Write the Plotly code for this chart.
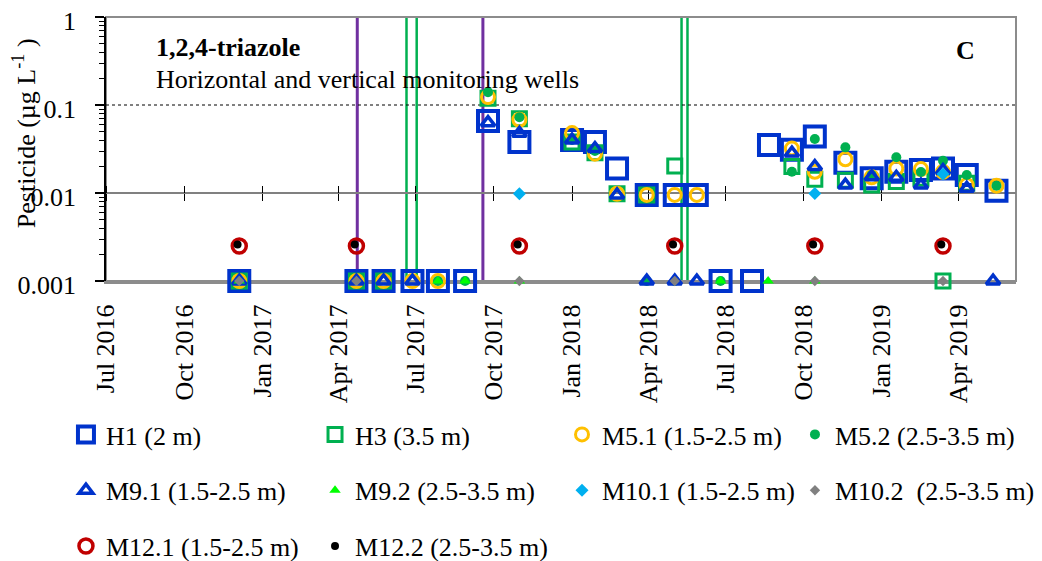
import plotly.graph_objects as go

FONT = "Liberation Serif, Times New Roman, serif"

# ---------------- axis data ----------------
quarter_ticks = ['2016-07-01', '2016-10-01', '2017-01-01', '2017-04-01', '2017-07-01', '2017-10-01',
                 '2018-01-01', '2018-04-01', '2018-07-01', '2018-10-01', '2019-01-01', '2019-04-01']
quarter_labels = ['Jul 2016', 'Oct 2016', 'Jan 2017', 'Apr 2017', 'Jul 2017', 'Oct 2017',
                  'Jan 2018', 'Apr 2018', 'Jul 2018', 'Oct 2018', 'Jan 2019', 'Apr 2019']
x_range = ['2016-07-01', '2019-06-08']
y_ticks = [0.001, 0.01, 0.1, 1]
y_tick_labels = ['0.001', '0.01', '0.1', '1']
limit_value = [0.1, 0.1]

purple_event_dates = ['2017-04-23', '2017-09-18']
green_event_dates = ['2017-06-20', '2017-07-02', '2018-05-10', '2018-05-17']

# ---------------- series data ----------------
h1_dates = ['2016-12-05', '2017-04-22', '2017-05-24', '2017-06-27', '2017-07-27', '2017-08-28',
            '2017-09-24', '2017-10-31', '2018-01-01', '2018-01-28', '2018-02-23', '2018-03-30',
            '2018-05-02', '2018-05-28', '2018-06-25', '2018-08-01', '2018-08-21', '2018-09-17',
            '2018-10-14', '2018-11-19', '2018-12-20', '2019-01-18', '2019-02-16', '2019-03-14',
            '2019-04-11', '2019-05-16']
h1_values = [0.001, 0.001, 0.001, 0.001, 0.001, 0.001,
             0.066, 0.038, 0.040, 0.038, 0.019, 0.0095,
             0.0095, 0.0095, 0.001, 0.001, 0.035, 0.031,
             0.044, 0.022, 0.0147, 0.0174, 0.0182, 0.019,
             0.016, 0.0106]

h3_dates = ['2016-12-05', '2017-04-22', '2017-05-24', '2017-09-24', '2017-10-31', '2018-01-01',
            '2018-01-28', '2018-02-23', '2018-03-30', '2018-05-02', '2018-09-17', '2018-10-14',
            '2018-11-19', '2018-12-20', '2019-01-18', '2019-02-16', '2019-03-14', '2019-04-11']
h3_values = [0.001, 0.001, 0.001, 0.119, 0.070, 0.038,
             0.0287, 0.0098, 0.0095, 0.0203, 0.020, 0.0143,
             0.014, 0.0123, 0.0135, 0.0147, 0.001, 0.0129]

m51_dates = ['2016-12-05', '2017-04-22', '2017-05-24', '2017-06-27', '2017-07-27', '2017-09-24',
             '2017-10-31', '2018-01-01', '2018-01-28', '2018-02-23', '2018-03-30', '2018-05-02',
             '2018-05-28', '2018-09-17', '2018-10-14', '2018-11-19', '2018-12-20', '2019-01-18',
             '2019-02-16', '2019-03-14', '2019-04-11', '2019-05-16']
m51_values = [0.001, 0.001, 0.001, 0.001, 0.001, 0.123,
              0.068, 0.048, 0.028, 0.0098, 0.0095, 0.0095,
              0.0095, 0.032, 0.0174, 0.0242, 0.0151, 0.019,
              0.0187, 0.0174, 0.0123, 0.0121]

m52_dates = ['2016-12-05', '2017-07-27', '2017-08-28', '2017-09-24', '2017-10-31', '2018-01-01',
             '2018-01-28', '2018-03-30', '2018-05-02', '2018-06-25', '2018-09-17', '2018-10-14',
             '2018-11-19', '2018-12-20', '2019-01-18', '2019-02-16', '2019-03-14', '2019-04-11',
             '2019-05-16']
m52_values = [0.001, 0.001, 0.001, 0.140, 0.0725, 0.040,
              0.030, 0.001, 0.001, 0.001, 0.0174, 0.041,
              0.033, 0.016, 0.0255, 0.0173, 0.0233, 0.016,
              0.0121]

m91_dates = ['2016-12-05', '2017-04-22', '2017-05-24', '2017-06-27', '2017-09-24', '2017-10-31',
             '2018-01-01', '2018-01-28', '2018-02-23', '2018-03-30', '2018-05-02', '2018-05-28',
             '2018-09-17', '2018-10-14', '2018-11-19', '2018-12-20', '2019-01-18', '2019-02-16',
             '2019-03-14', '2019-04-11', '2019-05-12']
m91_values = [0.001, 0.001, 0.001, 0.001, 0.063, 0.0477,
              0.040, 0.032, 0.0095, 0.001, 0.001, 0.001,
              0.0284, 0.020, 0.0123, 0.0153, 0.0151, 0.0123,
              0.018, 0.0113, 0.001]

m92_dates = ['2016-12-05', '2017-07-27', '2017-08-28', '2017-10-31', '2018-06-25', '2018-08-20',
             '2018-10-14']
m92_values = [0.001, 0.001, 0.001, 0.001, 0.001, 0.001, 0.001]

m101_dates = ['2017-10-31', '2018-10-14', '2019-03-14']
m101_values = [0.0098, 0.0099, 0.0164]

m102_dates = ['2016-12-05', '2017-04-22', '2017-10-31', '2018-05-02', '2018-10-14', '2019-03-14']
m102_values = [0.001, 0.001, 0.001, 0.001, 0.001, 0.001]

m121_dates = ['2016-12-05', '2017-04-22', '2017-10-31', '2018-05-02', '2018-10-14', '2019-03-14']
m121_values = [0.0025, 0.0025, 0.0025, 0.0025, 0.0025, 0.0025]

m122_dates = ['2016-12-03', '2017-04-20', '2017-10-29', '2018-04-30', '2018-10-12', '2019-03-12']
m122_values = [0.0026, 0.0026, 0.0026, 0.0026, 0.0026, 0.0026]

BLUE = '#0033CC'
GREEN = '#00B050'
ORANGE = '#FFC000'
LIME = '#00FF00'
CYAN = '#00B0F0'
GREY = '#808080'
DRED = '#C00000'

series = [
    ('H1 (2 m)', h1_dates, h1_values, dict(symbol='square-open', size=20, color=BLUE, line=dict(width=4, color=BLUE)), 'legend'),
    ('H3 (3.5 m)', h3_dates, h3_values, dict(symbol='square-open', size=14, color=GREEN, line=dict(width=3, color=GREEN)), 'legend2'),
    ('M5.1 (1.5-2.5 m)', m51_dates, m51_values, dict(symbol='circle-open', size=13, color=ORANGE, line=dict(width=3, color=ORANGE)), 'legend3'),
    ('M5.2 (2.5-3.5 m)', m52_dates, m52_values, dict(symbol='circle', size=10, color=GREEN, line=dict(width=0)), 'legend4'),
    ('M9.1 (1.5-2.5 m)', m91_dates, m91_values, dict(symbol='triangle-up-open', size=12, color=BLUE, line=dict(width=3.5, color=BLUE)), 'legend'),
    ('M9.2 (2.5-3.5 m)', m92_dates, m92_values, dict(symbol='triangle-up', size=10, color=LIME, line=dict(width=0)), 'legend2'),
    ('M10.1 (1.5-2.5 m)', m101_dates, m101_values, dict(symbol='diamond', size=10, color=CYAN, line=dict(width=0)), 'legend3'),
    ('M10.2  (2.5-3.5 m)', m102_dates, m102_values, dict(symbol='diamond', size=8, color=GREY, line=dict(width=0)), 'legend4'),
    ('M12.1 (1.5-2.5 m)', m121_dates, m121_values, dict(symbol='circle-open', size=14, color=DRED, line=dict(width=3.5, color=DRED)), 'legend'),
    ('M12.2 (2.5-3.5 m)', m122_dates, m122_values, dict(symbol='circle', size=8, color='black', line=dict(width=0)), 'legend2'),
]

fig = go.Figure()

# dotted 0.1 reference line
fig.add_trace(go.Scatter(x=x_range, y=limit_value, mode='lines', showlegend=False,
                         hoverinfo='skip', line=dict(color='black', width=1, dash='dot')))
# empty helper traces so the 0.01 crossing axes are drawn
fig.add_trace(go.Scatter(x=[], y=[], xaxis='x2', yaxis='y', showlegend=False, hoverinfo='skip'))
fig.add_trace(go.Scatter(x=[], y=[], xaxis='x3', yaxis='y', showlegend=False, hoverinfo='skip'))

for i, (name, xs, ys, mk, leg) in enumerate(series):
    fig.add_trace(go.Scatter(x=xs, y=ys, name=name, mode='markers', marker=mk,
                             cliponaxis=False, legend=leg, legendgroup='g%d' % i))

# event lines
for d in purple_event_dates:
    fig.add_shape(type='line', xref='x', yref='paper', x0=d, x1=d, y0=0, y1=1,
                  line=dict(color='#7030A0', width=3), layer='below')
for d in green_event_dates:
    fig.add_shape(type='line', xref='x', yref='paper', x0=d, x1=d, y0=0, y1=1,
                  line=dict(color=GREEN, width=2.5), layer='below')

# plot frame
fig.add_shape(type='rect', xref='paper', yref='paper', x0=0, x1=1, y0=0, y1=1,
              line=dict(color='#8c8c8c', width=2), layer='below')

FS = 26
tickfont = dict(family=FONT, size=FS, color='black')

fig.update_layout(
    width=1034, height=553,
    margin=dict(l=98, r=26, t=9, b=280, autoexpand=False),
    paper_bgcolor='white', plot_bgcolor='white',
    font=dict(family=FONT, size=FS, color='black'),
    xaxis=dict(type='date', range=x_range, tickmode='array', tickvals=quarter_ticks,
               ticktext=quarter_labels, tickangle=-90, ticks='', showgrid=False,
               zeroline=False, showline=True, linecolor='#8c8c8c', linewidth=3,
               layer='below traces', tickfont=tickfont, ticklabelstandoff=10),
    xaxis2=dict(type='date', range=x_range, overlaying='x', anchor='free', position=1/3,
                side='bottom', tickmode='array', tickvals=quarter_ticks, ticks='outside',
                ticklen=7, tickcolor='black', tickwidth=1, showticklabels=False,
                showgrid=False, zeroline=False, showline=True, linecolor='#808080',
                linewidth=1.5, layer='below traces'),
    xaxis3=dict(type='date', range=x_range, overlaying='x', anchor='free', position=1/3,
                side='top', tickmode='array', tickvals=quarter_ticks, ticks='outside',
                ticklen=7, tickcolor='black', tickwidth=1, showticklabels=False,
                showgrid=False, zeroline=False, showline=False, layer='below traces'),
    yaxis=dict(type='log', range=[-3, 0], tickmode='array', tickvals=y_ticks,
               ticktext=y_tick_labels, ticks='outside', ticklen=9, tickwidth=1.5,
               tickcolor='black', showline=True, linecolor='black', linewidth=1.5,
               showgrid=False, zeroline=False, tickfont=tickfont, ticklabelstandoff=14,
               ticklabelshift=4, ticklabeloverflow='allow',
               minor=dict(ticks='outside', ticklen=5, tickwidth=1, tickcolor='black',
                          dtick='D1', showgrid=False)),
)

leg_common = dict(orientation='v', xref='paper', yref='paper', xanchor='left',
                  yanchor='top', y=-0.4924, traceorder='grouped', tracegroupgap=19,
                  font=dict(family=FONT, size=FS, color='black'), bgcolor='rgba(0,0,0,0)')
fig.update_layout(
    legend=dict(x=-0.044, **leg_common),
    legend2=dict(x=0.2297, **leg_common),
    legend3=dict(x=0.5011, **leg_common),
    legend4=dict(x=0.7571, **leg_common),
)

# text annotations
fig.add_annotation(text='<b>1,2,4-triazole</b>', xref='paper', yref='paper', x=0.0527, y=0.886,
                   xanchor='left', yanchor='middle', showarrow=False,
                   font=dict(family=FONT, size=FS, color='black'))
fig.add_annotation(text='Horizontal and vertical monitoring wells', xref='paper', yref='paper',
                   x=0.0527, y=0.765, xanchor='left', yanchor='middle', showarrow=False,
                   font=dict(family=FONT, size=FS, color='black'))
fig.add_annotation(text='<b>C</b>', xref='paper', yref='paper', x=0.945, y=0.875,
                   xanchor='center', yanchor='middle', showarrow=False,
                   font=dict(family=FONT, size=26, color='black'))
fig.add_annotation(text='Pesticide (µg L<sup>-1</sup> )', xref='paper', yref='paper',
                   x=-0.0901, y=0.560, xanchor='center', yanchor='middle', textangle=-90,
                   showarrow=False, font=dict(family=FONT, size=FS, color='black'))

fig.write_html("out.html")
